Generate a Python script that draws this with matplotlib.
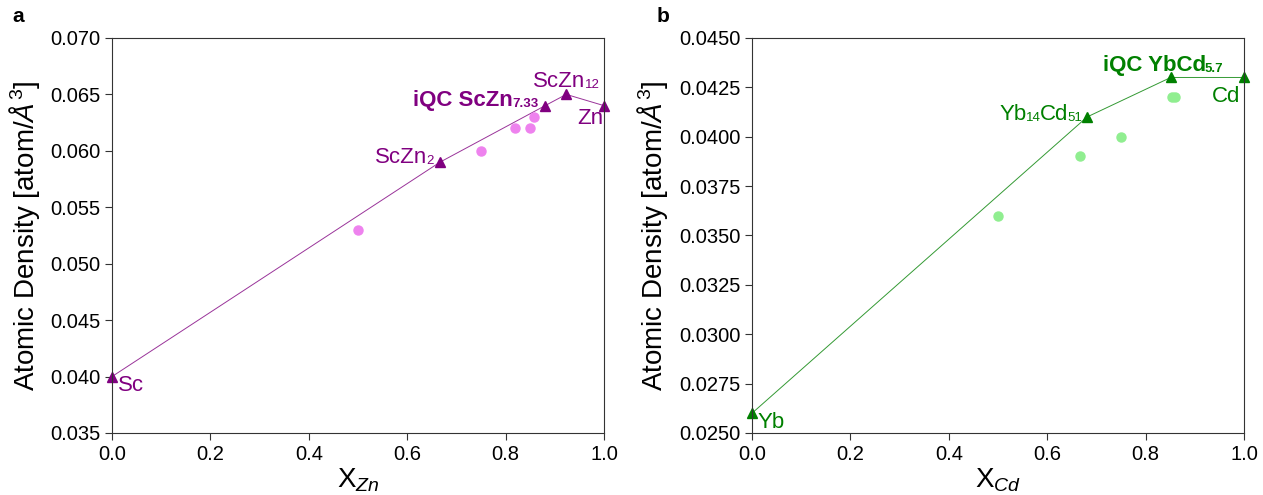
import numpy as np
import matplotlib
matplotlib.use("Agg")
import matplotlib.pyplot as plt
import matplotlib.transforms as mtransforms
from matplotlib.ticker import FormatStrFormatter

plt.rcParams['font.family'] = ['Liberation Sans', 'DejaVu Sans']
plt.rcParams['mathtext.fontset'] = 'custom'
plt.rcParams['mathtext.rm'] = 'Liberation Sans'
plt.rcParams['mathtext.it'] = 'Liberation Sans:italic'

# Sc-Zn system: convex hull phases and other compounds
sczn_hull_x = [0.0, 2/3, 0.88, 12/13, 1.0]
sczn_hull_y = [0.040, 0.059, 0.064, 0.065, 0.064]
sczn_other_x = [0.5, 0.75, 0.818, 0.85, 0.857]
sczn_other_y = [0.053, 0.060, 0.062, 0.062, 0.063]

# Yb-Cd system
ybcd_hull_x = [0.0, 0.681, 0.851, 1.0]
ybcd_hull_y = [0.026, 0.041, 0.043, 0.043]
ybcd_other_x = [0.5, 0.667, 0.75, 0.853, 0.86]
ybcd_other_y = [0.036, 0.039, 0.040, 0.042, 0.042]

fig = plt.figure(figsize=(12.63, 4.95), dpi=100)
ax1 = fig.add_axes([0.0887, 0.1253, 0.3896, 0.7980])
ax2 = fig.add_axes([0.5954, 0.1253, 0.3896, 0.7980])
renderer = fig.canvas.get_renderer()

LAB_FS = 16
SUB_FS = 9.5


def chem_label(ax, x, y, parts, color, bold=False):
    """Write a formula piece by piece; (text, True) parts are small subscripts."""
    dx = 0.0
    for txt, sub in parts:
        tr = ax.transData + mtransforms.Affine2D().translate(dx, -1 if sub else 0)
        t = ax.text(x, y, txt, transform=tr, color=color,
                    fontsize=SUB_FS if sub else LAB_FS,
                    fontweight='bold' if bold else 'normal', va='baseline')
        dx += t.get_window_extent(renderer).width - 1


ylabel = r'Atomic Density [atom/$Å^3$]'

# panel a
ax1.set_xlim(0, 1)
ax1.set_ylim(0.035, 0.070)
ax1.plot(sczn_hull_x, sczn_hull_y, color='purple', lw=0.7, alpha=0.8)
ax1.plot(sczn_hull_x, sczn_hull_y, '^', color='purple', ms=7, clip_on=False)
ax1.plot(sczn_other_x, sczn_other_y, 'o', color='violet', ms=6.5)
chem_label(ax1, 0.012, 0.0387, [('Sc', False)], 'purple')
chem_label(ax1, 0.535, 0.0589, [('ScZn', False), ('2', True)], 'purple')
chem_label(ax1, 0.612, 0.0640, [('iQC ScZn', False), ('7.33', True)], 'purple', bold=True)
chem_label(ax1, 0.856, 0.06566, [('ScZn', False), ('12', True)], 'purple')
chem_label(ax1, 0.945, 0.0624, [('Zn', False)], 'purple')
ax1.set_yticks(np.arange(0.035, 0.0701, 0.005))
ax1.yaxis.set_major_formatter(FormatStrFormatter('%.3f'))
ax1.set_xlabel(r'X$_{Zn}$', fontsize=20, labelpad=2)
ax1.set_ylabel(ylabel, fontsize=20, labelpad=6)

# panel b
ax2.set_xlim(0, 1)
ax2.set_ylim(0.025, 0.045)
ax2.plot(ybcd_hull_x, ybcd_hull_y, color='green', lw=0.7, alpha=0.8)
ax2.plot(ybcd_hull_x, ybcd_hull_y, '^', color='green', ms=7, clip_on=False)
ax2.plot(ybcd_other_x, ybcd_other_y, 'o', color='lightgreen', ms=6.5)
chem_label(ax2, 0.012, 0.02525, [('Yb', False)], 'green')
chem_label(ax2, 0.504, 0.04085, [('Yb', False), ('14', True), ('Cd', False), ('51', True)], 'green')
chem_label(ax2, 0.713, 0.04333, [('iQC YbCd', False), ('5.7', True)], 'green', bold=True)
chem_label(ax2, 0.935, 0.04176, [('Cd', False)], 'green')
ax2.set_yticks(np.arange(0.025, 0.04501, 0.0025))
ax2.yaxis.set_major_formatter(FormatStrFormatter('%.4f'))
ax2.set_xlabel(r'X$_{Cd}$', fontsize=20, labelpad=2)
ax2.set_ylabel(ylabel, fontsize=20, labelpad=6)

for ax in (ax1, ax2):
    ax.set_xticks(np.arange(0, 1.01, 0.2))
    ax.tick_params(labelsize=14.5, length=5, width=0.8, color='#333333')
    for sp in ax.spines.values():
        sp.set_linewidth(0.8)
        sp.set_color('#333333')

fig.text(0.010, 0.955, 'a', fontsize=15, fontweight='bold')
fig.text(0.520, 0.955, 'b', fontsize=15, fontweight='bold')

fig.savefig('out.png', dpi=100)
